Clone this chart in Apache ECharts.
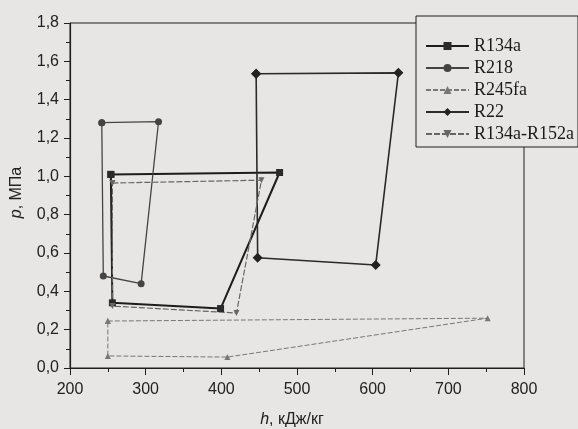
<!DOCTYPE html>
<html>
<head>
<meta charset="utf-8">
<script src="https://cdn.jsdelivr.net/npm/echarts@6/dist/echarts.min.js"></script>
<style>
html,body{margin:0;padding:0;background:#e8e6e5;}
#c{width:578px;height:429px;}
</style>
</head>
<body>
<div id="c"></div>
<script>
// Data (h in kJ/kg, p in MPa), each cycle closed
const seriesNames = ['R134a', 'R218', 'R245fa', 'R22', 'R134a-R152a'];
const r134a_h = [254, 477, 399, 256, 254];
const r134a_p = [1.01, 1.02, 0.31, 0.34, 1.01];
const r218_h = [242, 317, 294, 244, 242];
const r218_p = [1.28, 1.285, 0.44, 0.48, 1.28];
const r245fa_h = [250, 752, 408, 250, 250];
const r245fa_p = [0.245, 0.26, 0.057, 0.063, 0.245];
const r22_h = [446, 634, 604, 448, 446];
const r22_p = [1.535, 1.54, 0.537, 0.575, 1.535];
const mix_h = [256, 453, 420, 256, 256];
const mix_p = [0.965, 0.98, 0.287, 0.323, 0.965];
const xTicks = [200, 300, 400, 500, 600, 700, 800];
const yTicks = [0.0, 0.2, 0.4, 0.6, 0.8, 1.0, 1.2, 1.4, 1.6, 1.8];

function pairs(h, p) { return h.map((v, i) => [v, p[i]]); }

const chart = echarts.init(document.getElementById('c'));
const axisCol = '#1e1e1e';
const font = '"Liberation Sans", Arial, sans-serif';

chart.setOption({
  backgroundColor: '#e8e6e5',
  animation: false,
  grid: { left: 70, right: 54, top: 23, bottom: 61, show: true, borderColor: axisCol, borderWidth: 1, backgroundColor: 'transparent',
    outerBoundsMode: 'none', containLabel: false },
  legend: {
    orient: 'vertical', left: 416, top: 16,
    padding: [21, 4, 4, 9],
    itemGap: 4, itemWidth: 43, itemHeight: 10,
    backgroundColor: '#e8e6e5', borderColor: axisCol, borderWidth: 1,
    textStyle: { fontFamily: '"Liberation Serif", "Times New Roman", serif', fontSize: 18, color: '#1a1a1a', lineHeight: 18 },
    data: seriesNames
  },
  xAxis: {
    type: 'value', min: xTicks[0], max: xTicks[xTicks.length - 1], interval: 100,
    axisLine: { lineStyle: { color: axisCol, width: 1.2 } },
    axisTick: { inside: false, length: 7, lineStyle: { color: axisCol } },
    minorTick: { show: true, splitNumber: 2, length: 4, lineStyle: { color: axisCol } },
    splitLine: { show: false },
    axisLabel: { fontFamily: font, fontSize: 16, color: '#222', margin: 14 },
    name: '{i|h}, кДж/кг', nameLocation: 'middle', nameGap: 44,
    nameTextStyle: { fontFamily: font, fontSize: 16, color: '#222', padding: [0, 10, 0, 0],
      rich: { i: { fontStyle: 'italic', fontFamily: font, fontSize: 16, color: '#222' } } }
  },
  yAxis: {
    type: 'value', min: 0, max: 1.8, interval: 0.2,
    axisLine: { show: true, lineStyle: { color: axisCol, width: 1.2 } },
    axisTick: { show: true, inside: false, length: 6, lineStyle: { color: axisCol } },
    minorTick: { show: true, splitNumber: 2, length: 4, lineStyle: { color: axisCol } },
    splitLine: { show: false },
    axisLabel: { fontFamily: font, fontSize: 16, color: '#222', margin: 11,
      formatter: v => v.toFixed(1).replace('.', ',') },
    name: '{i|p}, МПа', nameLocation: 'middle', nameGap: 45, nameRotate: 90,
    nameTextStyle: { fontFamily: font, fontSize: 16, color: '#222', padding: [0, 0, 0, 6],
      rich: { i: { fontStyle: 'italic', fontFamily: font, fontSize: 16, color: '#222' } } }
  },
  series: [
    { name: 'R134a', type: 'line', data: pairs(r134a_h, r134a_p), symbol: 'rect', symbolSize: 7,
      lineStyle: { color: '#1c1c1c', width: 2 }, itemStyle: { color: '#2a2a2a' } },
    { name: 'R218', type: 'line', data: pairs(r218_h, r218_p), symbol: 'circle', symbolSize: 7,
      lineStyle: { color: '#444', width: 1.3 }, itemStyle: { color: '#444' } },
    { name: 'R245fa', type: 'line', data: pairs(r245fa_h, r245fa_p), symbol: 'triangle', symbolSize: 6,
      lineStyle: { color: '#777', width: 1, type: [5, 2] }, itemStyle: { color: '#777' } },
    { name: 'R22', type: 'line', data: pairs(r22_h, r22_p), symbol: 'diamond', symbolSize: 10,
      lineStyle: { color: '#2a2a2a', width: 1.6 }, itemStyle: { color: '#222' } },
    { name: 'R134a-R152a', type: 'line', data: pairs(mix_h, mix_p), symbol: 'triangle', symbolRotate: 180, symbolSize: 6,
      lineStyle: { color: '#666', width: 1.2, type: [6, 2] }, itemStyle: { color: '#666' } }
  ]
});
</script>
</body>
</html>
